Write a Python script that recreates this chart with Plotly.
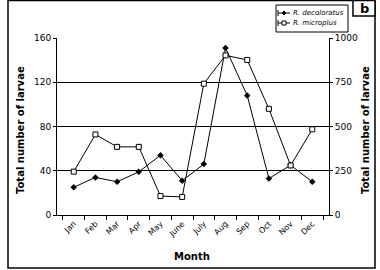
import plotly.graph_objects as go

months = ["Jan", "Feb", "Mar", "Apr", "May", "June", "July", "Aug", "Sep", "Oct", "Nov", "Dec"]
decoloratus = [25, 34, 30, 39, 54, 31, 46, 151, 108, 33, 45, 30]
microplus = [245, 455, 385, 385, 107, 102, 742, 902, 876, 600, 280, 484]
left_ticks = [0, 40, 80, 120, 160]
right_ticks = [0, 250, 500, 750, 1000]
series_names = ["R. decoloratus", "R. microplus"]

FONT = "DejaVu Sans"

fig = go.Figure()
fig.add_trace(go.Scatter(
    x=months, y=decoloratus, name=series_names[0],
    mode="lines+markers",
    line=dict(color="black", width=1),
    marker=dict(symbol="diamond", size=5, color="black"),
    yaxis="y",
))
fig.add_trace(go.Scatter(
    x=months, y=microplus, name=series_names[1],
    mode="lines+markers",
    line=dict(color="black", width=1),
    marker=dict(symbol="square", size=5, color="white", line=dict(color="black", width=1)),
    yaxis="y2",
))

W, H = 380, 270
L, R, T, B = 57, 51, 38, 55
pw, ph = W - L - R, H - T - B

def px(x):
    return (x - L) / pw

def py(y):
    return (H - B - y) / ph

fig.update_layout(
    width=W, height=H,
    margin=dict(l=L, r=R, t=T, b=B),
    paper_bgcolor="white", plot_bgcolor="white",
    font=dict(family=FONT, size=9, color="black"),
    showlegend=False,
    xaxis=dict(
        type="category", categoryorder="array", categoryarray=months,
        showline=True, linecolor="black", linewidth=1,
        ticks="outside", ticklen=4, tickcolor="black", tickson="boundaries",
        tickangle=-45, tickfont=dict(size=8, color="black"),
        showgrid=False, zeroline=False, automargin=False,
    ),
    yaxis=dict(
        range=[0, 160], tickvals=left_ticks,
        showline=True, linecolor="black", linewidth=1,
        ticks="outside", ticklen=3, tickcolor="black", tickfont=dict(color="black"),
        showgrid=True, gridcolor="black", gridwidth=1, zeroline=False, automargin=False,
    ),
    yaxis2=dict(
        range=[0, 1000], tickvals=right_ticks,
        overlaying="y", side="right",
        showline=True, linecolor="black", linewidth=1,
        ticks="outside", ticklen=3, tickcolor="black", tickfont=dict(color="black"),
        showgrid=False, zeroline=False, automargin=False,
    ),
)

# axis titles
fig.add_annotation(xref="paper", yref="paper", x=px(20), y=py(130), text="<b>Total number of larvae</b>",
                   textangle=-90, showarrow=False, font=dict(size=10), xanchor="center", yanchor="middle")
fig.add_annotation(xref="paper", yref="paper", x=px(365), y=py(130), text="<b>Total number of larvae</b>",
                   textangle=-90, showarrow=False, font=dict(size=10), xanchor="center", yanchor="middle")
fig.add_annotation(xref="paper", yref="paper", x=px(192), y=py(256), text="<b>Month</b>",
                   showarrow=False, font=dict(size=10), xanchor="center", yanchor="middle")

# outer frame
fig.add_shape(type="rect", xref="paper", yref="paper",
              x0=px(8), x1=px(375), y0=py(268), y1=py(0.5),
              line=dict(color="black", width=1.5), fillcolor="rgba(0,0,0,0)", layer="below")
# panel label box
fig.add_shape(type="rect", xref="paper", yref="paper",
              x0=px(353), x1=px(375), y0=py(16), y1=py(0.5),
              line=dict(color="black", width=1.5), fillcolor="white")
fig.add_annotation(xref="paper", yref="paper", x=px(364), y=py(8),
                   text="<b>b</b>", showarrow=False, font=dict(size=13, family=FONT),
                   xanchor="center", yanchor="middle")

# legend box
fig.add_shape(type="rect", xref="paper", yref="paper",
              x0=px(276), x1=px(348), y0=py(32), y1=py(5),
              line=dict(color="black", width=1), fillcolor="white")
for i, nm in enumerate(series_names):
    yy = 13 + 10 * i
    fig.add_shape(type="line", xref="paper", yref="paper",
                  x0=px(278), x1=px(290), y0=py(yy), y1=py(yy),
                  line=dict(color="black", width=1))
    fig.add_shape(type="line", xref="paper", yref="paper",
                  x0=px(278), x1=px(278), y0=py(yy - 3), y1=py(yy + 3),
                  line=dict(color="black", width=1))
    if i == 0:
        fig.add_shape(type="path", xref="paper", yref="paper",
                      path=f"M {px(284)} {py(yy-2)} L {px(286)} {py(yy)} L {px(284)} {py(yy+2)} L {px(282)} {py(yy)} Z",
                      line=dict(color="black", width=1), fillcolor="black")
    else:
        fig.add_shape(type="rect", xref="paper", yref="paper",
                      x0=px(282), x1=px(286), y0=py(yy + 2), y1=py(yy - 2),
                      line=dict(color="black", width=1), fillcolor="white")
    fig.add_annotation(xref="paper", yref="paper", x=px(291), y=py(yy), text=f"<i>{nm}</i>",
                       showarrow=False, font=dict(size=7), xanchor="left", yanchor="middle")

fig.write_html("out.html", config={"displayModeBar": False},
               post_script="document.body.style.margin='0px';document.body.style.padding='0px';")
